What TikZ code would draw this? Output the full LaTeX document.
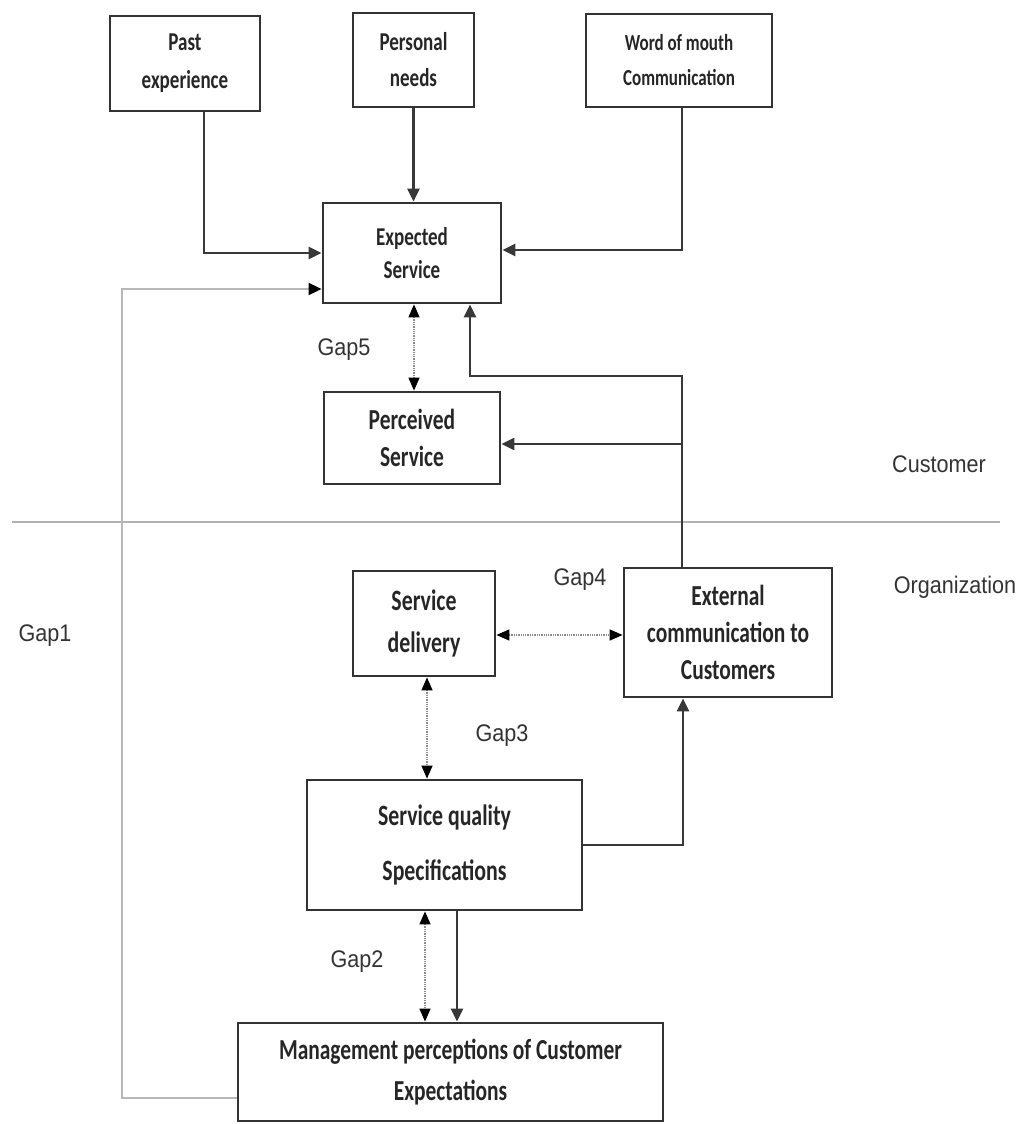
\documentclass[tikz,border=0pt]{standalone}
\usepackage{fontspec}
\usetikzlibrary{arrows.meta}
\newfontfamily\boxfont{Carlito}[FakeStretch=0.74]
\newfontfamily\lblfont{Liberation Sans}[FakeStretch=0.9]
\tikzset{
  box/.style={draw=black!80, line width=2.8pt, rectangle, align=center, inner sep=0pt, text=black!85},
  arr/.style={draw=black!78, line width=2.3pt, -{Triangle[length=13pt,width=12pt]}},
  garr/.style={draw=black!28, line width=1.8pt, -{Triangle[length=13pt,width=12pt,color=black]}},
  gaparr/.style={draw=black!45, line width=1.3pt, densely dotted,
     {Triangle[length=13pt,width=11pt,color=black]}-{Triangle[length=13pt,width=11pt,color=black]}},
  lbl/.style={font=\lblfont\fontsize{24}{28}\selectfont, text=black!80, inner sep=0pt},
}
\begin{document}
\begin{tikzpicture}[x=1pt,y=-1pt]
\useasboundingbox (0,0) rectangle (1020,1124);
% boxes
\node[box, minimum width=150, minimum height=95, font=\boxfont\bfseries\fontsize{25.7}{38}\selectfont] (past) at (185,63.5) {Past\\experience};
\node[box, minimum width=121, minimum height=94, font=\boxfont\bfseries\fontsize{25.7}{36}\selectfont] (needs) at (413.5,60) {Personal\\needs};
\node[box, minimum width=186, minimum height=93, font=\boxfont\bfseries\fontsize{23}{35}\selectfont] (wom) at (679,60.5) {Word of mouth\\Communication};
\node[box, minimum width=178, minimum height=100, font=\boxfont\bfseries\fontsize{25.7}{33}\selectfont] (exp) at (412,253) {Expected\\Service};
\node[box, minimum width=176, minimum height=92, font=\boxfont\bfseries\fontsize{29}{37}\selectfont] (perc) at (412,438) {Perceived\\Service};
\node[box, minimum width=142, minimum height=105, font=\boxfont\bfseries\fontsize{29.5}{42}\selectfont] (deliv) at (424,623.5) {Service\\delivery};
\node[box, minimum width=208, minimum height=129, font=\boxfont\bfseries\fontsize{29}{37}\selectfont] (ext) at (728,632.5) {External\\communication to\\Customers};
\node[box, minimum width=275, minimum height=130, font=\boxfont\bfseries\fontsize{29.5}{55}\selectfont] (sqs) at (444.5,845) {Service quality\\Specifications};
\node[box, minimum width=425, minimum height=98, font=\boxfont\bfseries\fontsize{29}{41}\selectfont] (mgmt) at (450.5,1072) {Management perceptions of Customer\\Expectations};
% labels
\node[lbl] (g5) at (344,350) {Gap5};
\node[lbl] (g4) at (580,580) {Gap4};
\node[lbl] (g1) at (45,636) {Gap1};
\node[lbl] (g3) at (502,736) {Gap3};
\node[lbl] (g2) at (357,962) {Gap2};
\node[lbl] (cust) at (939,464) {Customer};
\node[lbl] (org) at (955,587) {Organization};
% divider
\coordinate (dl) at (12,522);
\coordinate (dr) at (1000,522);
\draw[draw=black!30, line width=1.8pt] (dl) -- (dr);
% coordinates
\coordinate (j) at (682,376);
\coordinate (k) at (682,444);
\coordinate (g1c) at (122,289);
\coordinate (g4c) at (560,635);
% solid connectors
\draw[arr] ([xshift=19]past.south) |- (exp.west);
\draw[arr] (needs.south) -- (needs.south |- exp.north);
\draw[arr] ([xshift=3]wom.south) |- ([yshift=3]exp.east);
\draw[arr] ([xshift=-46]ext.north) -- (j) -| ([xshift=58]exp.south);
\draw[arr] (k) -- (k -| perc.east);
\draw[arr] (sqs.east) -| ([xshift=-45]ext.south);
\draw[arr] ([xshift=12.5]sqs.south) -- ([xshift=6.5]mgmt.north);
% gap 1 line
\draw[garr] ([yshift=-26]mgmt.west) -| (g1c) -- ([yshift=-36]exp.west);
% gap arrows
\draw[gaparr] ([xshift=2]exp.south) -- ([xshift=2]perc.north);
\draw[gaparr] (g4c -| deliv.east) -- (g4c -| ext.west);
\draw[gaparr] ([xshift=3]deliv.south) -- ([xshift=-17.5]sqs.north);
\draw[gaparr] ([xshift=-19.5]sqs.south) -- ([xshift=-25.5]mgmt.north);
\end{tikzpicture}
\end{document}
